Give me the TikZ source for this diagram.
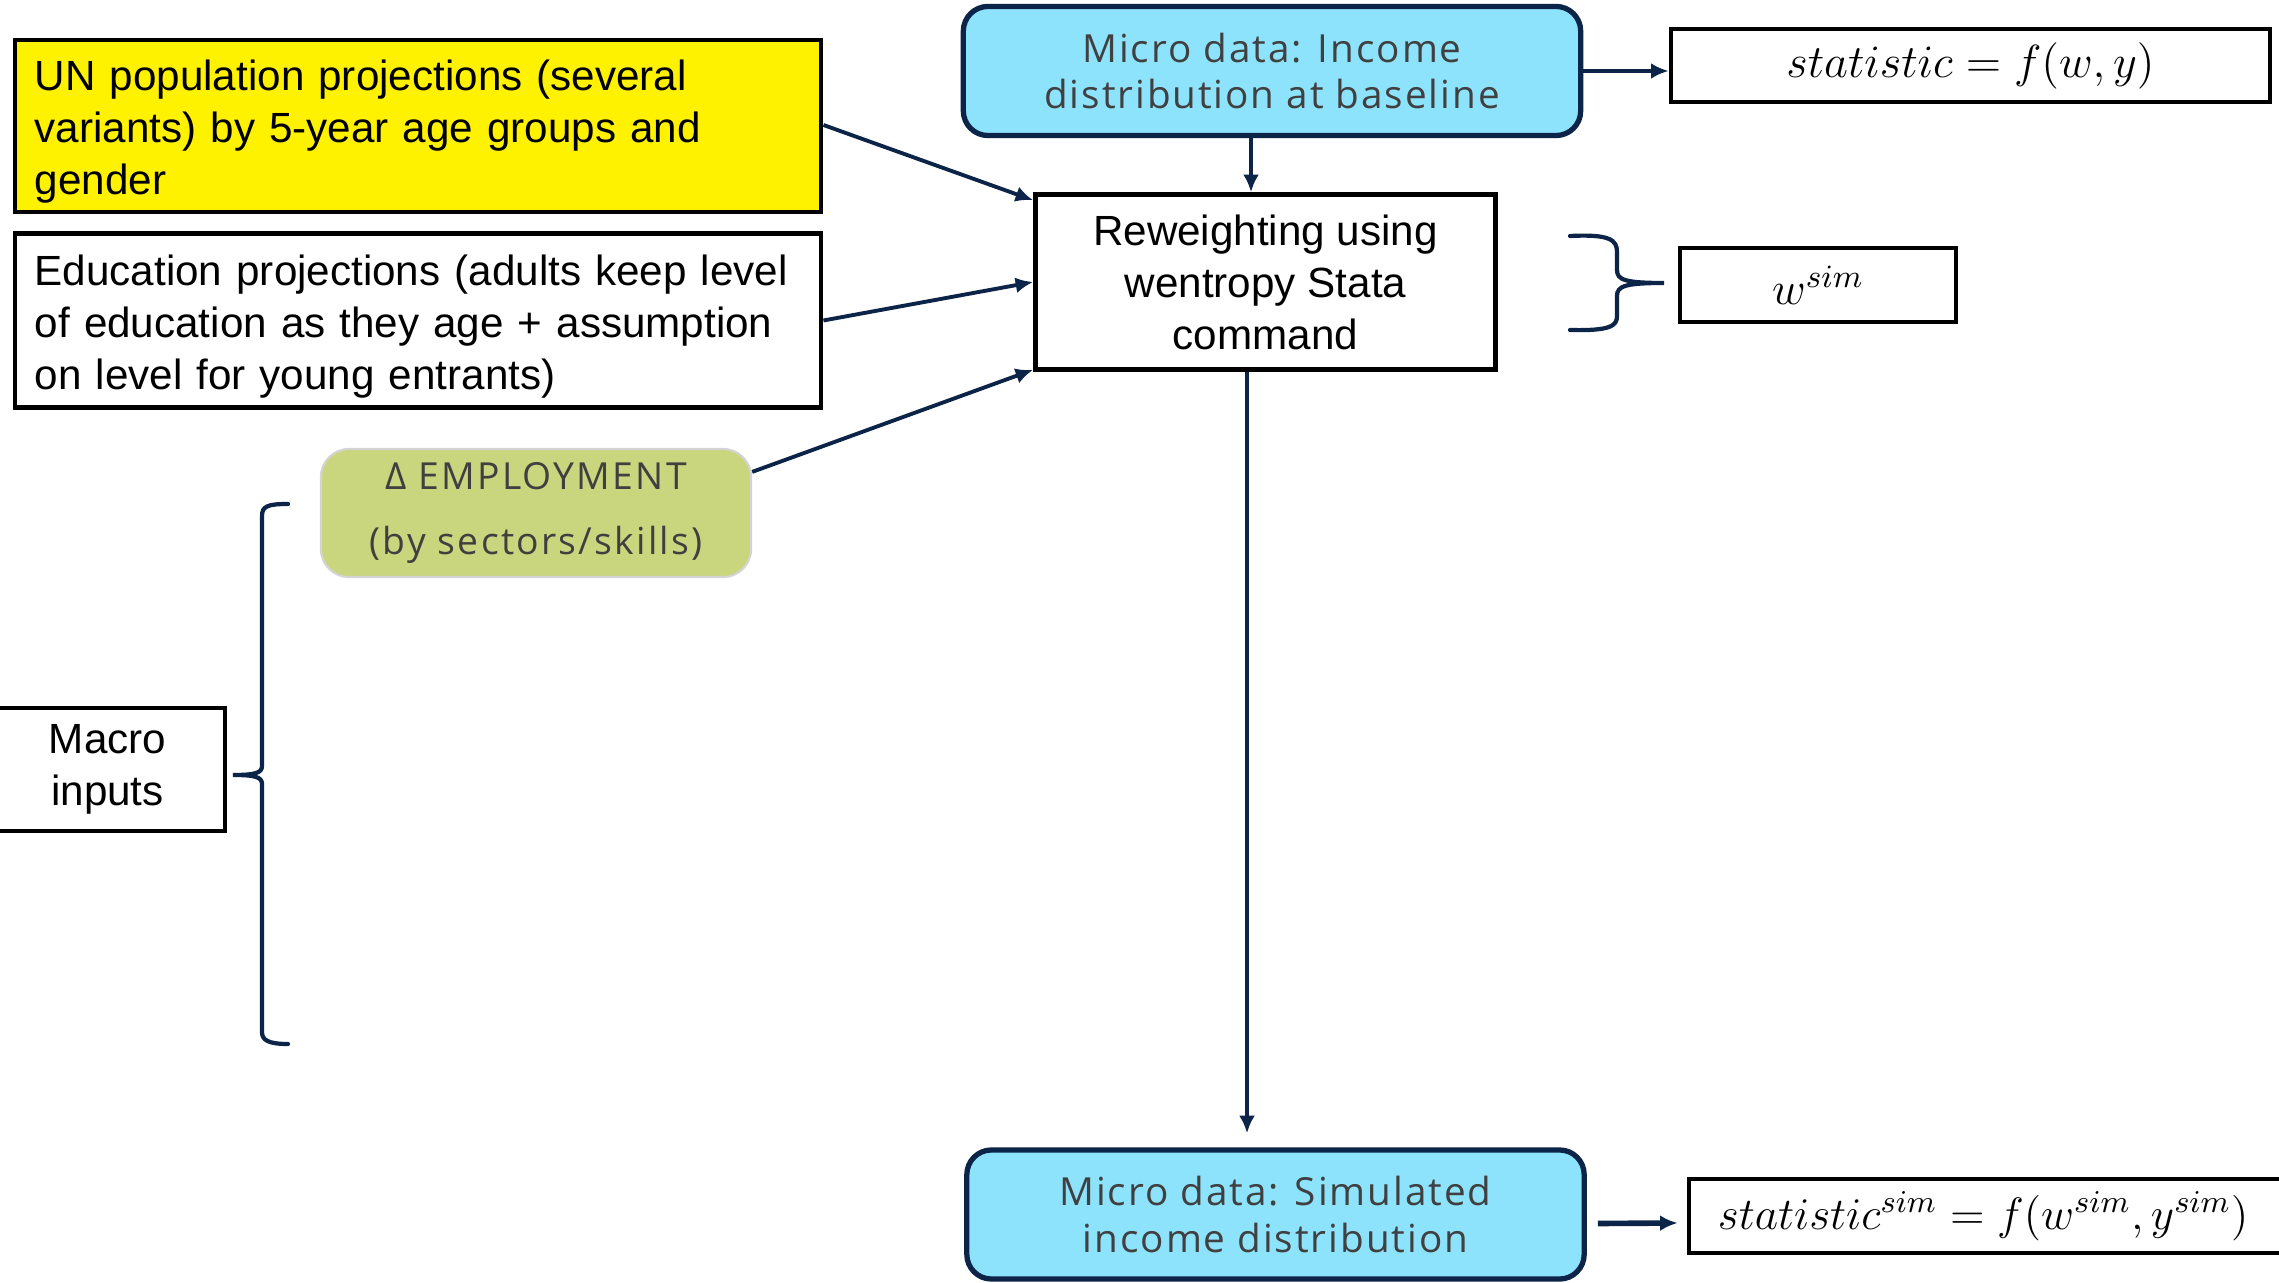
\RequirePackage{fix-cm}
\documentclass[tikz,border=0pt]{standalone}
\usepackage{fontspec}
\setmainfont{Liberation Sans}
\newfontfamily\osans[LetterSpace=5]{Open Sans}
\newfontfamily\osanse[LetterSpace=6]{Open Sans}
\usetikzlibrary{arrows.meta,calc}
\definecolor{navy}{HTML}{0B2447}
\definecolor{skyfill}{HTML}{8EE3FC}
\definecolor{empfill}{HTML}{C9D67E}
\definecolor{empborder}{HTML}{D4D4D4}
\definecolor{txtgray}{HTML}{404040}
\newcommand{\toppad}{\rule{0pt}{12pt}}
\tikzset{
  box/.style={draw=black, line width=1.25pt, rectangle, inner sep=0pt},
  bodytext/.style={font=\fontsize{12}{14.8}\selectfont, text=black},
  mathtext/.style={font=\fontsize{13.2}{15}\selectfont, text=black},
  microbox/.style={draw=navy, fill=skyfill, line width=1.5pt, rounded corners=7pt,
    inner sep=0pt, align=center, text=txtgray, font=\osans\fontsize{11}{13.2}\selectfont},
  empbox/.style={draw=empborder, fill=empfill, line width=0.6pt, rounded corners=8pt,
    inner sep=0pt, align=center, text=txtgray, font=\osanse\fontsize{10.6}{18.5}\selectfont},
  conn/.style={draw=navy, line width=1.1pt, -{Latex[length=5pt,width=4.5pt]}},
  bracestyle/.style={draw=navy, line width=1.2pt, line cap=round},
}
\begin{document}
\begin{tikzpicture}[x=0.01cm,y=-0.01cm]
\useasboundingbox (0,0) rectangle (2279,1283);
\clip (0,0) rectangle (2279,1283);

% boxes
\node[box, fill=yellow, minimum width=8.06cm, minimum height=1.72cm, text width=7.66cm,
      align=left, bodytext] (un) at (418,126)
  {\toppad UN population projections (several\\variants) by 5-year age groups and\\gender};
\node[box, fill=white, minimum width=8.06cm, minimum height=1.74cm, text width=7.66cm,
      align=left, bodytext] (edu) at (418,320.5)
  {\toppad Education projections (adults keep level\\of education as they age + assumption\\on level for young entrants)};
\node[microbox, minimum width=6.17cm, minimum height=1.29cm] (mtop) at (1272,71)
  {Micro data: Income\\distribution at baseline};
\node[box, minimum width=4.6cm, minimum height=1.75cm, align=center, bodytext] (rew) at (1265.5,282)
  {Reweighting using\\wentropy Stata\\command};
\node[box, minimum width=5.99cm, minimum height=0.73cm, mathtext] (stat) at (1970.5,65.5)
  {$statistic = f(w,y)$};
\node[box, minimum width=2.76cm, minimum height=0.74cm, mathtext] (wsim) at (1818,285)
  {$w^{sim}$};
\node[empbox, minimum width=4.3cm, minimum height=1.28cm] (emp) at (536,513)
  {Δ EMPLOYMENT\\(by sectors/skills)};
\node[box, minimum width=2.35cm, minimum height=1.23cm, align=center, bodytext] (macro) at (107.5,769.5)
  {Macro\\inputs};
\node[microbox, minimum width=6.17cm, minimum height=1.29cm] (mbot) at (1275.5,1214.5)
  {Micro data: Simulated\\income distribution};
\node[box, minimum width=6.1cm, minimum height=0.74cm, text width=5.52cm, align=left,
      font=\fontsize{12.9}{15}\selectfont]
  (statsim) at (1994,1216)
  {$statistic^{sim} = f(w^{sim},y^{sim})$};

% connectors
\draw[conn] (mtop.south -| 1251,0) -- (rew.north -| 1251,0);
\draw[conn] (un.east |- 0,125) -- ($(rew.north west)+(0,8)$);
\draw[conn] (edu.east) -- (rew.west);
\draw[conn] ($(emp.north east)+(0,24)$) -- ($(rew.south west)+(0,-2)$);
\draw[conn] (rew.south -| 1247,0) -- ($(mbot.north -| 1247,0)+(0,-14)$);
\draw[conn] (mtop.east) -- (mtop.east -| stat.west);
\draw[conn, line width=1.6pt] ($(mbot.east)+(11,9)$) -- ($(statsim.west |- 0,1223)+(-9,0)$);

% right brace
\draw[bracestyle] (1570,236) .. controls (1610,234) and (1617,240) .. (1617,252)
  -- (1617,270) .. controls (1617,280) and (1625,283) .. (1664,283)
  .. controls (1625,283) and (1617,286) .. (1617,296)
  -- (1617,316) .. controls (1617,326) and (1610,331) .. (1570,330);
% left bracket
\draw[bracestyle] (288,504) .. controls (268,504) and (262,506) .. (262,516)
  -- (262,766) .. controls (262,773) and (255,775) .. (233,775)
  .. controls (255,775) and (262,777) .. (262,784)
  -- (262,1032) .. controls (262,1040) and (268,1044) .. (288,1044);
\end{tikzpicture}
\end{document}
